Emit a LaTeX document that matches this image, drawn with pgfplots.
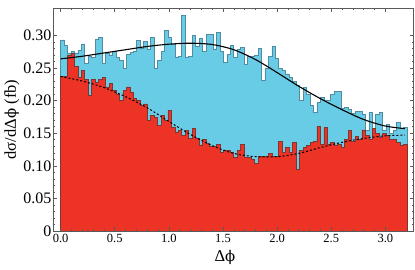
\documentclass[border=0pt]{standalone}
\usepackage{fontspec}
\setmainfont{Liberation Serif}
\newfontfamily\dvs[Scale=0.9]{DejaVu Serif}
\newcommand{\ph}{{\dvs ϕ}}
\usepackage{pgfplots}
\usepackage{pgfplotstable}
\pgfplotsset{compat=1.18}
\definecolor{cyanfill}{RGB}{104,204,230}
\definecolor{redfill}{RGB}{237,50,38}
\definecolor{cyanedge}{RGB}{82,140,160}
\definecolor{rededge}{RGB}{125,55,50}
\definecolor{frame}{RGB}{90,90,90}
\pgfplotstableread{
x blue red
0.000 0.293 0.237
0.032 0.285 0.237
0.064 0.273 0.270
0.096 0.276 0.272
0.128 0.273 0.252
0.160 0.277 0.236
0.192 0.287 0.246
0.224 0.257 0.232
0.256 0.268 0.208
0.288 0.266 0.233
0.320 0.294 0.228
0.352 0.297 0.232
0.384 0.257 0.236
0.416 0.272 0.221
0.448 0.270 0.226
0.480 0.275 0.215
0.512 0.266 0.209
0.544 0.262 0.200
0.576 0.249 0.215
0.608 0.271 0.221
0.640 0.274 0.213
0.672 0.276 0.203
0.704 0.292 0.200
0.736 0.280 0.192
0.768 0.291 0.195
0.800 0.278 0.169
0.832 0.297 0.177
0.864 0.249 0.174
0.896 0.262 0.162
0.928 0.276 0.177
0.960 0.308 0.169
0.992 0.297 0.185
1.024 0.286 0.159
1.056 0.267 0.152
1.088 0.268 0.154
1.120 0.331 0.146
1.152 0.267 0.154
1.184 0.268 0.142
1.216 0.300 0.157
1.248 0.283 0.142
1.280 0.295 0.132
1.312 0.276 0.140
1.344 0.301 0.135
1.376 0.301 0.130
1.408 0.279 0.130
1.440 0.304 0.133
1.472 0.276 0.120
1.504 0.259 0.123
1.536 0.271 0.123
1.568 0.284 0.121
1.600 0.266 0.113
1.632 0.278 0.123
1.664 0.282 0.133
1.696 0.256 0.113
1.728 0.268 0.113
1.760 0.268 0.110
1.792 0.270 0.103
1.824 0.280 0.115
1.856 0.231 0.115
1.888 0.249 0.115
1.920 0.268 0.119
1.952 0.283 0.115
1.984 0.265 0.115
2.016 0.249 0.138
2.048 0.246 0.121
2.080 0.241 0.128
2.112 0.236 0.121
2.144 0.230 0.136
2.176 0.223 0.095
2.208 0.200 0.123
2.240 0.220 0.128
2.272 0.210 0.131
2.304 0.192 0.136
2.336 0.182 0.138
2.368 0.197 0.161
2.400 0.205 0.133
2.432 0.200 0.159
2.464 0.200 0.133
2.496 0.210 0.136
2.528 0.214 0.131
2.560 0.214 0.133
2.592 0.188 0.128
2.624 0.190 0.141
2.656 0.187 0.154
2.688 0.180 0.138
2.720 0.184 0.145
2.752 0.184 0.141
2.784 0.179 0.155
2.816 0.154 0.146
2.848 0.182 0.141
2.880 0.154 0.157
2.912 0.179 0.149
2.944 0.182 0.144
2.976 0.155 0.149
3.008 0.164 0.146
3.040 0.149 0.141
3.072 0.154 0.141
3.104 0.167 0.136
3.136 0.157 0.131
3.168 0.159 0.133
3.200 0.159 0.133
}\histdata
\begin{document}
\begin{tikzpicture}
\begin{axis}[
  scale only axis, width=360.5pt, height=223pt,
  xmin=-0.07, xmax=3.26, ymin=0, ymax=0.342,
  axis on top,
  axis line style={draw=frame, line width=0.6pt},
  tick style={draw=frame, line width=0.5pt},
  major tick length=4pt, minor tick length=2pt,
  xtick={0,0.5,1,1.5,2,2.5,3},
  xticklabels={0.0,0.5,1.0,1.5,2.0,2.5,3.0},
  ytick={0,0.05,0.1,0.15,0.2,0.25,0.3},
  yticklabels={0,0.05,0.10,0.15,0.20,0.25,0.30},
  minor x tick num=4, minor y tick num=4,
  xticklabel style={font=\fontsize{12.5}{14}\selectfont, inner sep=1pt, yshift=-2pt},
  yticklabel style={font=\fontsize{16}{18}\selectfont, inner sep=1.5pt},
  xlabel={Δ\ph}, ylabel={dσ/dΔ\ph\ (fb)},
  label style={font=\fontsize{16.5}{18}\selectfont},
  xlabel style={at={(axis description cs:0.477,-0.117)}, anchor=center},
  ylabel style={at={(axis description cs:-0.114,0.5)}, anchor=center},
]
\addplot[const plot, fill=cyanfill, draw=cyanedge, line width=0.7pt] table[x=x, y=blue]{\histdata} \closedcycle;
\addplot[const plot, fill=redfill, draw=rededge, line width=0.7pt] table[x=x, y=red]{\histdata} \closedcycle;
\addplot[smooth, black, line width=1.1pt] coordinates {
(0,0.264) (0.2,0.268) (0.4,0.273) (0.6,0.278) (0.8,0.283) (1.0,0.2865) (1.2,0.288) (1.4,0.286) (1.6,0.278) (1.8,0.263) (2.0,0.243) (2.2,0.222) (2.4,0.203) (2.6,0.186) (2.8,0.171) (3.0,0.161) (3.18,0.157)};
\addplot[smooth, black, line width=1.0pt, dash pattern=on 2pt off 2pt] coordinates {
(0,0.237) (0.2,0.230) (0.4,0.220) (0.6,0.206) (0.8,0.189) (1.0,0.168) (1.2,0.148) (1.4,0.131) (1.6,0.119) (1.8,0.114) (2.0,0.114) (2.2,0.119) (2.4,0.128) (2.6,0.136) (2.8,0.142) (3.0,0.146) (3.18,0.147)};
\end{axis}
\pgfresetboundingbox
\path ([xshift=-53pt,yshift=-38pt]current axis.south west) rectangle ([xshift=1.5pt,yshift=8pt]current axis.north east);
\end{tikzpicture}
\end{document}
